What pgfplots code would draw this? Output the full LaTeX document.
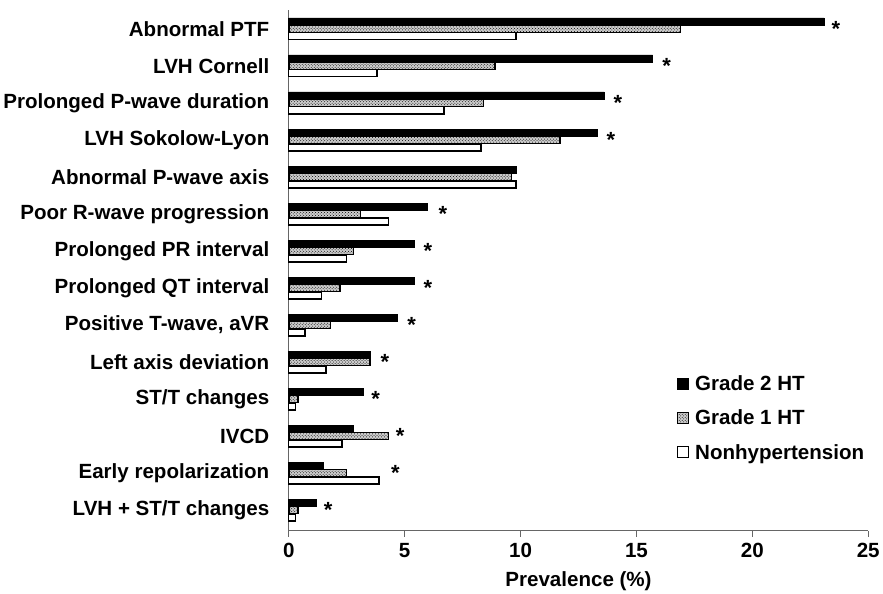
\documentclass[border=0pt]{standalone}
\usepackage{fontspec}
\setmainfont{Liberation Sans}
\usepackage{pgfplots}
\pgfplotsset{compat=1.18}
\usetikzlibrary{patterns}
\newcommand\lbl{\fontsize{20.6}{22}\selectfont\bfseries}
\pgfplotsset{
  myleg/.style={legend image code/.code={\draw[##1, line width=0.9pt] (0pt,-5.5pt) rectangle (11pt,5.5pt);}},
}
\tikzset{ast/.style={font=\fontsize{22}{22}\selectfont\bfseries, inner sep=0pt}}
\begin{document}
\begin{tikzpicture}
\begin{axis}[
  scale only axis, width=581pt, height=522pt,
  xmin=0, xmax=25, ymin=-0.55, ymax=13.51,
  xbar, bar width=0.19,
  axis x line=bottom, axis y line=left,
  axis line style={-, black!60, line width=1pt},
  xtick={0,5,...,25}, tick align=outside, major tick length=6pt,
  xtick style={black!60, line width=1pt},
  ytick={0,...,13}, ytick style={draw=none},
  yticklabels={LVH + ST/T changes, Early repolarization, IVCD, ST/T changes, Left axis deviation, {Positive T-wave, aVR}, Prolonged QT interval, Prolonged PR interval, Poor R-wave progression, Abnormal P-wave axis, LVH Sokolow-Lyon, Prolonged P-wave duration, LVH Cornell, Abnormal PTF},
  ticklabel style={font=\lbl},
  yticklabel style={xshift=-10pt},
  xticklabel style={yshift=-3pt},
  /pgf/number format/assume math mode=true,
  xlabel={Prevalence (\%)}, xlabel style={font=\lbl, yshift=-7pt},
  legend style={at={(0.665,0.306)}, anchor=north west, draw=none, fill=none, font=\lbl, row sep=14pt,
    /tikz/every odd column/.append style={column sep=4pt}},
  legend cell align=left,
  clip=false,
]
\addplot[fill=black, draw=black, line width=0.8pt, bar shift=0.2, myleg] coordinates {
(1.2,0) (1.5,1) (2.8,2) (3.2,3) (3.5,4) (4.7,5) (5.4,6) (5.4,7) (6.0,8) (9.8,9) (13.3,10) (13.6,11) (15.7,12) (23.1,13)};
\addlegendentry{Grade 2 HT}
\addplot[fill=black!20, draw=black, line width=1.5pt, bar shift=0, postaction={pattern=crosshatch dots, pattern color=black}, myleg] coordinates {
(0.4,0) (2.5,1) (4.3,2) (0.4,3) (3.5,4) (1.8,5) (2.2,6) (2.8,7) (3.1,8) (9.6,9) (11.7,10) (8.4,11) (8.9,12) (16.9,13)};
\addlegendentry{Grade 1 HT}
\addplot[fill=white, draw=black, line width=1.4pt, bar shift=-0.2, myleg] coordinates {
(0.3,0) (3.9,1) (2.3,2) (0.3,3) (1.6,4) (0.7,5) (1.4,6) (2.5,7) (4.3,8) (9.8,9) (8.3,10) (6.7,11) (3.8,12) (9.8,13)};
\addlegendentry{Nonhypertension}
\node[ast] at (axis cs:1.7,0.0) {*};
\node[ast] at (axis cs:4.6,1.0) {*};
\node[ast] at (axis cs:4.8,2.0) {*};
\node[ast] at (axis cs:3.75,3.0) {*};
\node[ast] at (axis cs:4.15,4.0) {*};
\node[ast] at (axis cs:5.3,5.0) {*};
\node[ast] at (axis cs:6.0,6.0) {*};
\node[ast] at (axis cs:6.0,7.0) {*};
\node[ast] at (axis cs:6.65,8.0) {*};
\node[ast] at (axis cs:13.9,10.0) {*};
\node[ast] at (axis cs:14.2,11.0) {*};
\node[ast] at (axis cs:16.3,12.0) {*};
\node[ast] at (axis cs:23.6,13.0) {*};
\path ([yshift=10pt]rel axis cs:0,1) circle (0pt);
\end{axis}
\end{tikzpicture}
\end{document}
